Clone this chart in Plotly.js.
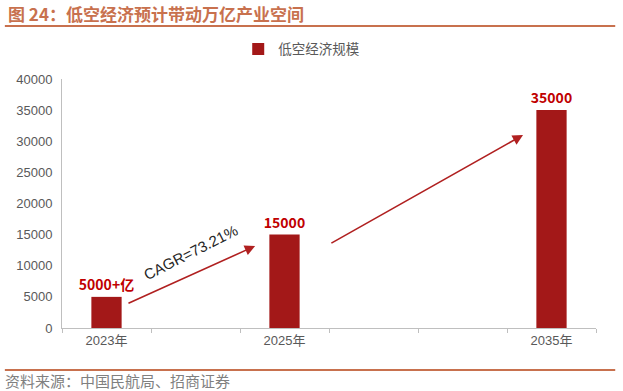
<!DOCTYPE html>
<html><head><meta charset="utf-8">
<script src="https://cdn.plot.ly/plotly-3.0.1.min.js"></script>
<style>html,body{margin:0;padding:0;background:#fff;}#chart{width:623px;height:391px;}</style>
</head><body><div id="chart"></div>
<script>
const categories = ["2023年", " ", "2025年", "  ", "   ", "2035年"];
const values = [5000, null, 15000, null, null, 35000];
const labels = ["5000+亿", "", "15000", "", "", "35000"];
const seriesName = "低空经济规模";
const cagrText = "CAGR=73.21%";
const titleText = "图 24：低空经济预计带动万亿产业空间";
const sourceText = "资料来源：中国民航局、招商证券";
const yTicks = [0, 5000, 10000, 15000, 20000, 25000, 30000, 35000, 40000];

const red = "#a31818";
const brown = "#c8714e";
const cjk = "Liberation Sans, Arial, Noto Sans CJK SC, sans-serif";

const trace = {
  type: "bar", x: categories, y: values, name: seriesName,
  marker: {color: red},
  text: labels, textposition: "outside", cliponaxis: false, constraintext: "none",
  outsidetextfont: {family: "Noto Sans CJK SC, sans-serif", size: 14, color: "#c00000", weight: "bold"},
  hoverinfo: "skip"
};

const layout = {
  width: 623, height: 391,
  margin: {l: 62, r: 27, t: 79, b: 63},
  paper_bgcolor: "#fff", plot_bgcolor: "#fff",
  bargap: 0.66,
  showlegend: true,
  legend: {orientation: "h", x: 0.33, y: 1.12, xanchor: "left", yanchor: "middle",
    font: {family: "Noto Sans CJK SC, sans-serif", size: 13.5, color: "#595959"},
    itemwidth: 30},
  xaxis: {type: "category", showline: true, linecolor: "#bfbfbf", linewidth: 1,
    ticks: "outside", tickson: "boundaries", ticklen: 4, tickcolor: "#bfbfbf",
    tickfont: {family: cjk, size: 13, color: "#595959"}, showgrid: false, fixedrange: true},
  yaxis: {range: [0, 40000], tickvals: yTicks, tickformat: "d", showline: true, linecolor: "#bfbfbf", linewidth: 1,
    showgrid: false, zeroline: false, ticks: "", ticklabelstandoff: 6,
    tickfont: {family: cjk, size: 13, color: "#595959"}},
  annotations: [
    {xref: "paper", yref: "paper", x: -0.105, y: 1.265, xanchor: "left", yanchor: "middle",
      text: "<b>" + titleText + "</b>", showarrow: false,
      font: {family: "Noto Sans CJK SC, sans-serif", size: 17, color: brown}},
    {xref: "paper", yref: "paper", x: -0.11, y: -0.21, xanchor: "left", yanchor: "middle",
      text: sourceText, showarrow: false,
      font: {family: "Noto Sans CJK SC, sans-serif", size: 15, color: "#808080"}},
    {xref: "x", yref: "y", x: 0.94, y: 12200, text: cagrText, showarrow: false, textangle: -27,
      font: {family: "Liberation Sans, Arial, sans-serif", size: 15, color: "#262626"}},
    {xref: "x", yref: "y", axref: "x", ayref: "y", x: 1.67, y: 13170, ax: 0.23, ay: 3850,
      text: "", showarrow: true, arrowhead: 2, arrowsize: 1.3, arrowwidth: 1.6, arrowcolor: "#b02020"},
    {xref: "x", yref: "y", axref: "x", ayref: "y", x: 4.68, y: 31000, ax: 2.51, ay: 13500,
      text: "", showarrow: true, arrowhead: 2, arrowsize: 1.3, arrowwidth: 1.6, arrowcolor: "#b02020"}
  ],
  shapes: [
    {type: "line", xref: "paper", yref: "paper", x0: -0.107, x1: 1.036, y0: 1.213, y1: 1.213,
      line: {color: brown, width: 2}},
    {type: "line", xref: "paper", yref: "paper", x0: -0.107, x1: 1.036, y0: -0.169, y1: -0.169,
      line: {color: brown, width: 2}}
  ]
};

Plotly.newPlot("chart", [trace], layout, {displayModeBar: false, staticPlot: true});
</script></body></html>
